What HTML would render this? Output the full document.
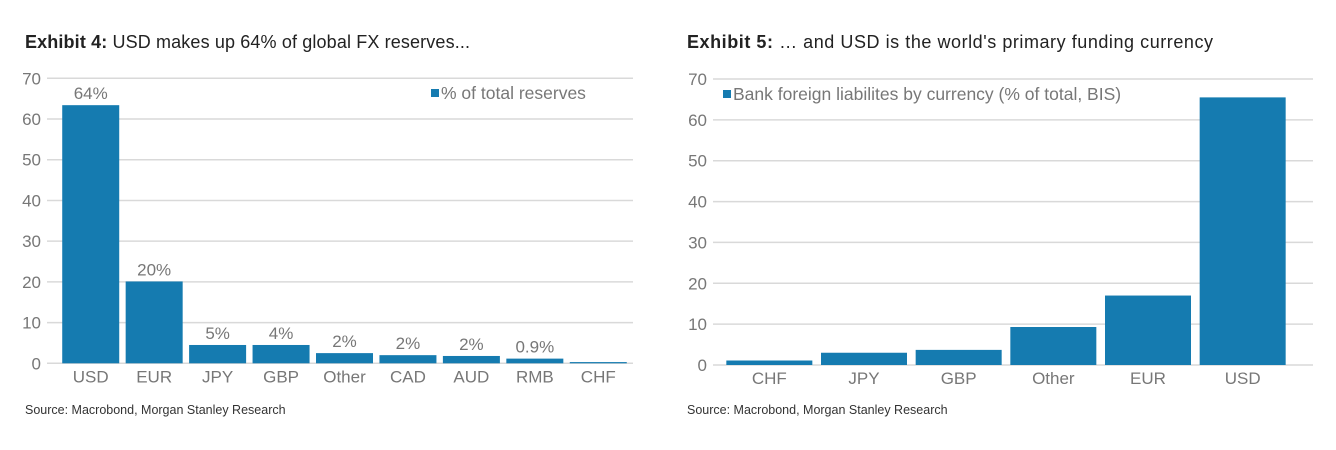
<!DOCTYPE html>
<html><head><meta charset="utf-8"><style>
body{margin:0;background:#fff;width:1336px;height:450px;overflow:hidden;font-family:"Liberation Sans",Arial,sans-serif}
svg{position:absolute;left:0;top:0}
</style></head><body>
<svg id="s" width="1336" height="450">
<text x="25" y="48" font-size="18" fill="#222" textLength="445"><tspan font-weight="bold">Exhibit 4:</tspan>  USD makes up 64% of global FX reserves...</text>
<text x="687" y="48" font-size="18" fill="#222" textLength="526"><tspan font-weight="bold">Exhibit 5:</tspan>  … and USD is the world's primary funding currency</text>
<text x="25" y="414" font-size="12.5" fill="#333">Source: Macrobond, Morgan Stanley Research</text>
<text x="687" y="414" font-size="12.5" fill="#333">Source: Macrobond, Morgan Stanley Research</text>
</svg>
<script>
const leftCats=["USD","EUR","JPY","GBP","Other","CAD","AUD","RMB","CHF"];
const leftVals=[63.4,20.1,4.5,4.5,2.5,2.0,1.8,1.15,0.3];
const leftLabels=["64%","20%","5%","4%","2%","2%","2%","0.9%",""];
const rightCats=["CHF","JPY","GBP","Other","EUR","USD"];
const rightVals=[1.1,3.0,3.7,9.3,17.0,65.5];
const yTicks=[0,10,20,30,40,50,60,70];
const NS="http://www.w3.org/2000/svg",svg=document.getElementById('s');
function mk(t,a,txt){const e=document.createElementNS(NS,t);for(const k in a)e.setAttribute(k,a[k]);if(txt!==undefined)e.textContent=txt;svg.appendChild(e);return e;}
function chart(o){
  const y=v=>o.y0-(v/70)*(o.y0-o.y70);
  const band=(o.xe-o.xs)/o.cats.length;
  yTicks.forEach(t=>{
    const l=mk('line',{x1:o.gx,x2:o.x1,y1:y(t),y2:y(t),stroke:'#d9d9d9','stroke-width':1.5});
    
    
    const tx=mk('text',{x:o.gx-6,y:y(t)+6,'font-size':17,fill:'#777','text-anchor':'end'},t);
    
    
  });
  o.cats.forEach((c,i)=>{
    const cx=o.xs+band*(i+0.5),v=o.vals[i];
    const r=mk('rect',{x:cx-o.bw/2,y:y(v),width:o.bw,height:y(0)-y(v),fill:'#157bb0'});
    
    
    const t=mk('text',{x:cx,y:y(0)+19,'font-size':17,fill:'#777','text-anchor':'middle'},c);
    
    
    if(o.labels&&o.labels[i]){
      const d=mk('text',{x:cx,y:y(v)-6,'font-size':17,fill:'#777','text-anchor':'middle'},o.labels[i]);
      
      
    }
  });
  const lr=mk('rect',{x:o.lx,y:o.ly-10,width:8,height:8,fill:'#157bb0'});
  
  
  const lt=mk('text',{x:o.lx+10,y:o.ly,'font-size':17.5,fill:'#777'},o.legend);
  
  
}
chart({cats:leftCats,vals:leftVals,labels:leftLabels,gx:47,xs:59,xe:630,x1:633,bw:57,y0:363.3,y70:78.3,lx:431,ly:99,legend:"% of total reserves"});
chart({cats:rightCats,vals:rightVals,gx:713,xs:722,xe:1290,x1:1313,bw:86,y0:365,y70:79,lx:723,ly:100,legend:"Bank foreign liabilites by currency (% of total, BIS)"});
</script>
</body></html>
